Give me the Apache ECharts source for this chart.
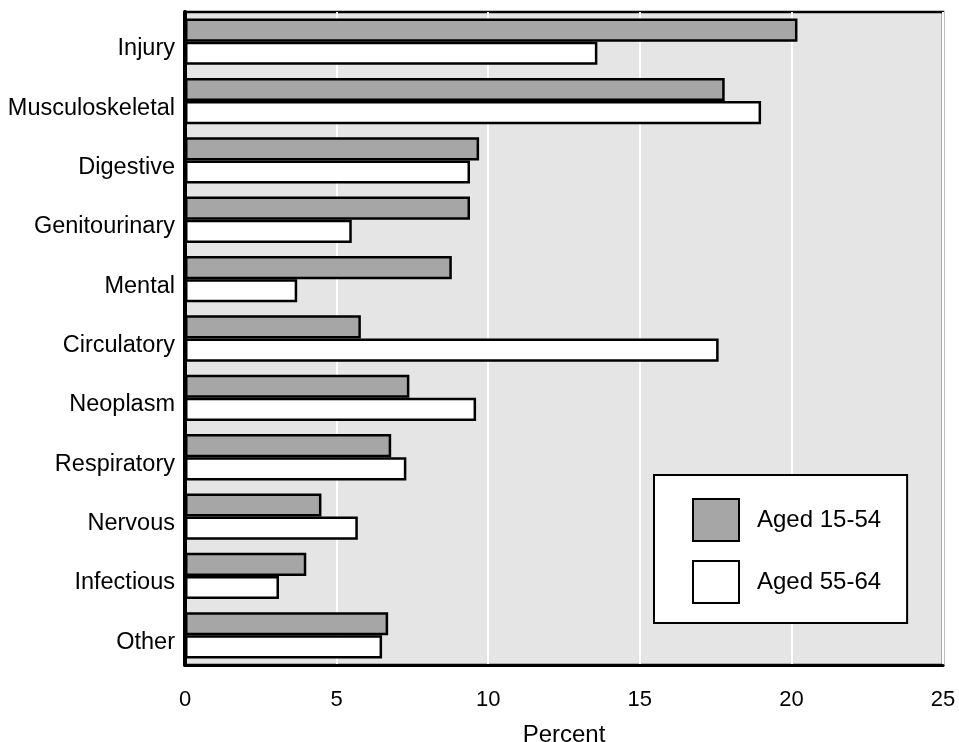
<!DOCTYPE html>
<html>
<head>
<meta charset="utf-8">
<script src="https://cdn.jsdelivr.net/npm/echarts@6/dist/echarts.min.js"></script>
<style>
html,body{margin:0;padding:0;background:#fff;}
#chart{width:959px;height:742px;}
</style>
</head>
<body>
<div id="chart"></div>
<script>
const categories = ['Injury','Musculoskeletal','Digestive','Genitourinary','Mental','Circulatory','Neoplasm','Respiratory','Nervous','Infectious','Other'];
const seriesNames = ['Aged 15-54','Aged 55-64'];
const aged15to54 = [20.2, 17.8, 9.7, 9.4, 8.8, 5.8, 7.4, 6.8, 4.5, 4.0, 6.7];
const aged55to64 = [13.6, 19.0, 9.4, 5.5, 3.7, 17.6, 9.6, 7.3, 5.7, 3.1, 6.5];
const xTicks = [0, 5, 10, 15, 20, 25];

const FONT = "'Liberation Sans', Arial, sans-serif";
const chart = echarts.init(document.getElementById('chart'), null, {renderer:'canvas'});
chart.setOption({
  animation: false,
  textStyle: {fontFamily: FONT, color: '#000'},
  grid: {
    left: 185, right: 16, top: 12, bottom: 77,
    show: true, backgroundColor: '#e5e5e5',
    borderColor: '#000', borderWidth: 2.5,
    containLabel: false,
    outerBoundsMode: 'none'
  },
  legend: {
    orient: 'vertical',
    left: 654, top: 475,
    backgroundColor: '#fff',
    borderColor: '#000', borderWidth: 2,
    padding: [23, 26, 19, 38],
    itemWidth: 46, itemHeight: 42,
    itemGap: 18,
    icon: 'rect',
    textStyle: {fontSize: 24, color: '#000', fontFamily: FONT, padding: [0, 0, 0, 13]},
    data: seriesNames
  },
  xAxis: {
    type: 'value',
    min: xTicks[0], max: xTicks[xTicks.length-1], interval: 5,
    name: 'Percent', nameLocation: 'middle', nameGap: 58,
    nameTextStyle: {fontSize: 24, color: '#000', fontFamily: FONT},
    axisLine: {show: true, onZero: false, lineStyle: {color: '#000', width: 3}},
    axisTick: {show: false},
    axisLabel: {fontSize: 22, color: '#000', margin: 24, fontFamily: FONT},
    splitLine: {show: true, lineStyle: {color: '#fff', width: 2}}
  },
  yAxis: {
    type: 'category',
    inverse: true,
    data: categories,
    axisLine: {show: true, lineStyle: {color: '#000', width: 4}},
    axisTick: {show: false},
    axisLabel: {fontSize: 23.5, color: '#000', margin: 10, fontFamily: FONT, verticalAlign: 'top', lineHeight: 14},
    splitLine: {show: false}
  },
  series: [
    {
      name: seriesNames[0], type: 'bar', data: aged15to54,
      barGap: '0%', barCategoryGap: '22%',
      itemStyle: {color: '#a6a6a6', borderColor: '#000', borderWidth: 2.5}
    },
    {
      name: seriesNames[1], type: 'bar', data: aged55to64,
      barGap: '0%', barCategoryGap: '22%',
      itemStyle: {color: '#fff', borderColor: '#000', borderWidth: 2.5}
    }
  ]
});
</script>
</body>
</html>
